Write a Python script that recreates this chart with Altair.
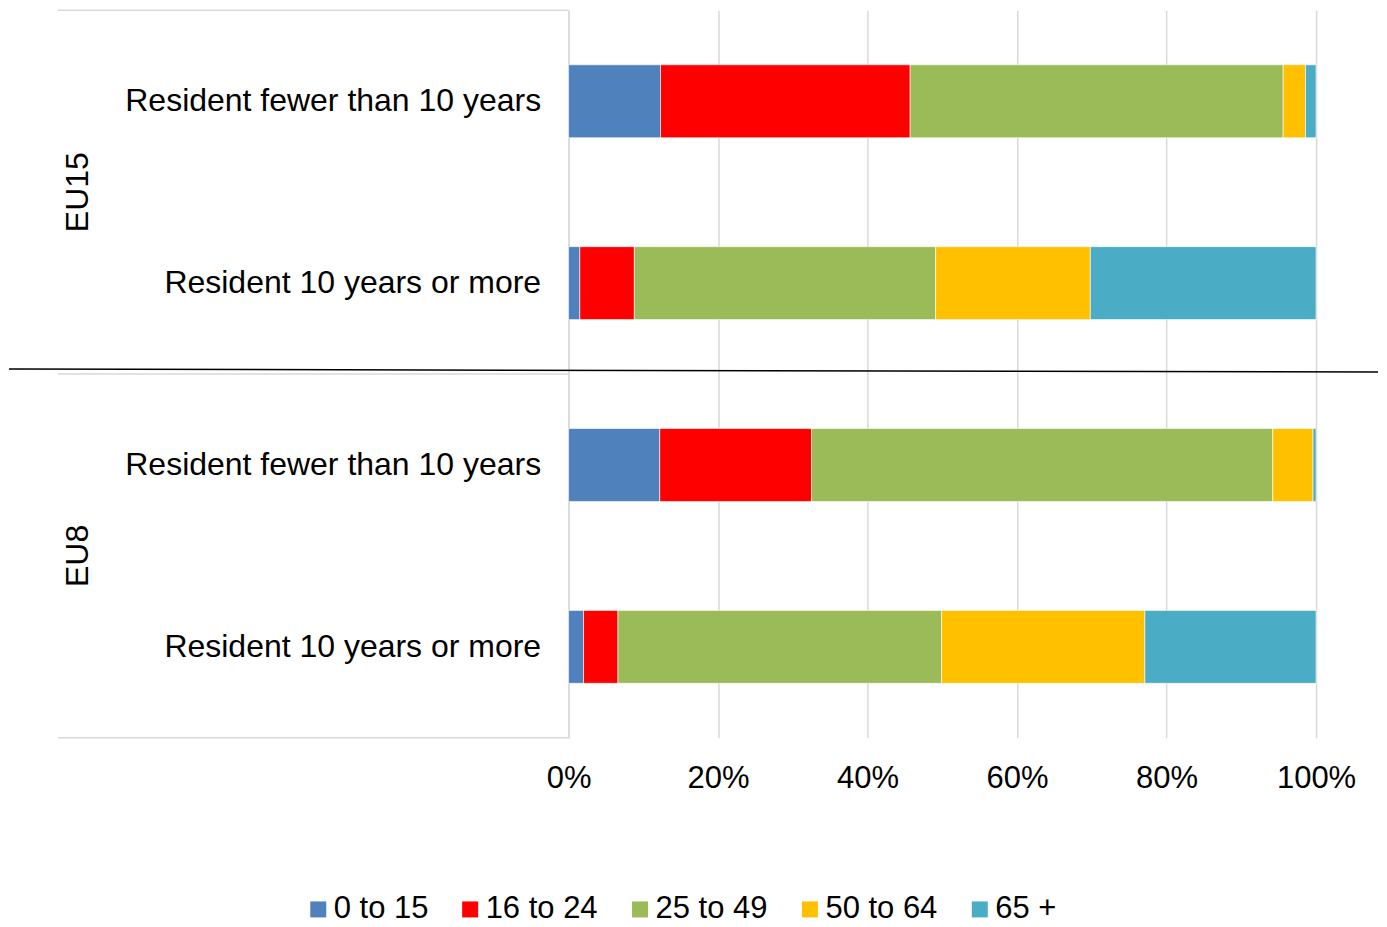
import altair as alt
import pandas as pd

FONT = "Liberation Sans"

groups = ["EU15", "EU15", "EU8", "EU8"]
categories = [
    "Resident fewer than 10 years",
    "Resident 10 years or more",
    "Resident fewer than 10 years",
    "Resident 10 years or more",
]
age_bands = ["0 to 15", "16 to 24", "25 to 49", "50 to 64", "65 +"]
v_eu15_short = [12.3, 33.4, 49.9, 3.0, 1.4]
v_eu15_long = [1.5, 7.3, 40.3, 20.7, 30.2]
v_eu8_short = [12.2, 20.3, 61.7, 5.4, 0.4]
v_eu8_long = [2.0, 4.6, 43.3, 27.2, 22.9]
values = [v_eu15_short, v_eu15_long, v_eu8_short, v_eu8_long]
colors = ["#4F81BD", "#FF0000", "#9BBB59", "#FFC000", "#4BACC6"]
tick_values = [0, 0.2, 0.4, 0.6, 0.8, 1.0]

keys = [f"{g}|{c}" for g, c in zip(groups, categories)]
rows = []
for k, g, c, vals in zip(keys, groups, categories, values):
    for i, (a, v) in enumerate(zip(age_bands, vals)):
        rows.append({"key": k, "group": g, "category": c, "age": a, "value": v, "order": i})
df = pd.DataFrame(rows)

yscale = alt.Scale(domain=keys, paddingInner=0, paddingOuter=0)

bars = alt.Chart(df).mark_bar(size=73, stroke="white", strokeWidth=0.6).encode(
    x=alt.X(
        "value:Q",
        stack="normalize",
        scale=alt.Scale(domain=[0, 1], nice=False),
        axis=alt.Axis(
            format=".0%", values=tick_values, grid=True, gridColor="#d9d9d9",
            gridWidth=1.5, domain=False, ticks=False, labelFontSize=31,
            labelFont=FONT, labelColor="black", labelPadding=26, title=None,
            labelFlush=False,
        ),
    ),
    y=alt.Y(
        "key:N", scale=yscale, sort=keys,
        axis=alt.Axis(
            title=None, labelExpr="split(datum.value, '|')[1]", ticks=False,
            domainColor="#d9d9d9", domainWidth=1.5, labelFontSize=32,
            labelFont=FONT, labelColor="black", labelPadding=28, labelLimit=0,
            grid=False,
        ),
    ),
    color=alt.Color(
        "age:N",
        scale=alt.Scale(domain=age_bands, range=colors),
        legend=alt.Legend(
            title=None, orient="none", legendX=-266, legendY=884,
            direction="horizontal", symbolType="square", symbolSize=256,
            symbolStrokeWidth=0, labelFontSize=31, labelFont=FONT,
            labelColor="black", labelOffset=0, columnPadding=26,
        ),
    ),
    order=alt.Order("order:Q"),
)

grp_df = pd.DataFrame({"key": [keys[0], keys[2]], "label": ["EU15", "EU8"]})
grp = alt.Chart(grp_df).mark_text(
    angle=270, fontSize=32, font=FONT, color="black", baseline="middle", align="center"
).encode(
    y=alt.Y("key:N", bandPosition=1, scale=yscale, sort=keys),
    x=alt.value(-491),
    text="label:N",
)

sep_top = pd.DataFrame({"key": [keys[0], keys[2]]})
rule_top = alt.Chart(sep_top).mark_rule(color="#d9d9d9", strokeWidth=1.5).encode(
    y=alt.Y("key:N", bandPosition=0, scale=yscale, sort=keys),
    x=alt.value(-511),
    x2=alt.value(0),
)
sep_bot = pd.DataFrame({"key": [keys[3]]})
rule_bot = alt.Chart(sep_bot).mark_rule(color="#d9d9d9", strokeWidth=1.5).encode(
    y=alt.Y("key:N", bandPosition=1, scale=yscale, sort=keys),
    x=alt.value(-511),
    x2=alt.value(0),
)

line_df = pd.DataFrame({"a": [0]})
black_line = alt.Chart(line_df).mark_rule(color="black", strokeWidth=1.5).encode(
    x=alt.value(-560), x2=alt.value(810), y=alt.value(359), y2=alt.value(362)
)

chart = alt.layer(bars, rule_top, rule_bot, grp, black_line).properties(
    width=748, height=728,
    padding={"left": 0, "top": 1, "right": 0, "bottom": 0},
).configure_view(stroke=None)

chart.save("out.html", embed_options={"renderer": "svg", "actions": False})
